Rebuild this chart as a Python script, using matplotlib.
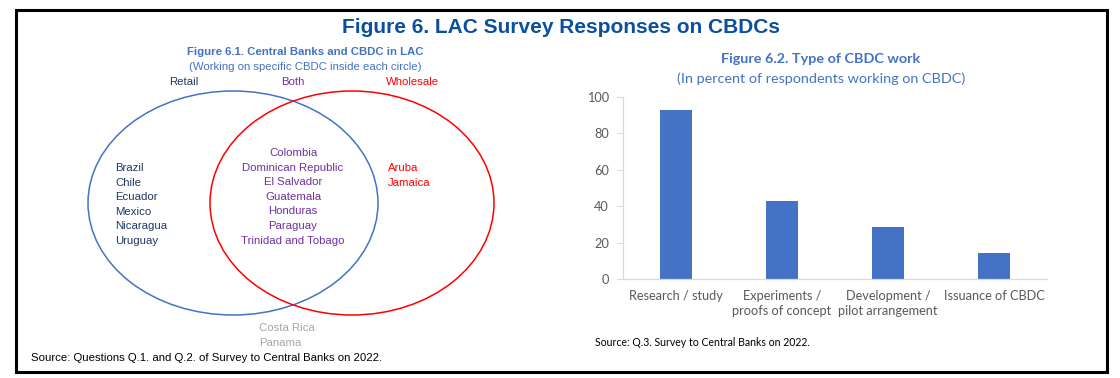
import matplotlib
matplotlib.use("Agg")
import matplotlib.pyplot as plt
from matplotlib.patches import Ellipse, Rectangle

# ---------------- data ----------------
retail_only = ["Brazil", "Chile", "Ecuador", "Mexico", "Nicaragua", "Uruguay"]
both = ["Colombia", "Dominican Republic", "El Salvador", "Guatemala",
        "Honduras", "Paraguay", "Trinidad and Tobago"]
wholesale_only = ["Aruba", "Jamaica"]
neither = ["Costa Rica", "Panama"]

work_types = ["Research / study", "Experiments /\nproofs of concept",
              "Development /\npilot arrangement", "Issuance of CBDC"]
work_pct = [92.9, 42.9, 28.6, 14.3]
y_ticks = [0, 20, 40, 60, 80, 100]

# ---------------- styles ----------------
W, H = 1120, 378
ARIAL = ["Liberation Sans", "DejaVu Sans"]
CALIBRI = ["Lato", "DejaVu Sans"]
BLUE = "#4472c4"
NAVY = "#1f3864"
PURPLE = "#7030a0"
RED = "#ff0000"
GREY = "#a6a6a6"
TITLE_BLUE = "#0a4fa0"
FS_L = 8.2

fig = plt.figure(figsize=(W / 100, H / 100), dpi=100)
fig.patch.set_facecolor("white")

# overlay axes in pixel coordinates
ov = fig.add_axes([0, 0, 1, 1])
ov.set_xlim(0, W)
ov.set_ylim(H, 0)
ov.axis("off")

# frame
ov.add_patch(Rectangle((16, 10), 1091, 362, fill=False, edgecolor="black", lw=2.2))

# main title
ov.text(561, 33, "Figure 6. LAC Survey Responses on CBDCs", ha="center", va="baseline",
        fontsize=15, fontweight="bold", color=TITLE_BLUE, family=ARIAL)

# ---------------- left panel: Venn ----------------
ov.text(305, 55, "Figure 6.1. Central Banks and CBDC in LAC", ha="center", va="baseline",
        fontsize=FS_L, fontweight="bold", color=BLUE, family=ARIAL)
ov.text(305, 70, "(Working on specific CBDC inside each circle)", ha="center", va="baseline",
        fontsize=FS_L, color=BLUE, family=ARIAL)
ov.text(184, 85, "Retail", ha="center", va="baseline", fontsize=FS_L, color=NAVY, family=ARIAL)
ov.text(293, 85, "Both", ha="center", va="baseline", fontsize=FS_L, color=PURPLE, family=ARIAL)
ov.text(413, 85, "Wholesale", ha="center", va="baseline", fontsize=FS_L, color=RED, family=ARIAL)

ov.add_patch(Ellipse((233, 203), 290, 224, fill=False, edgecolor=BLUE, lw=1.1))
ov.add_patch(Ellipse((352, 203), 284, 224, fill=False, edgecolor=RED, lw=1.1))

step = 14.6
for i, name in enumerate(retail_only):
    ov.text(115, 168 + i * step, name, ha="left", va="center", fontsize=FS_L,
            color=NAVY, family=ARIAL)
for i, name in enumerate(both):
    ov.text(293, 153 + i * step, name, ha="center", va="center", fontsize=FS_L,
            color=PURPLE, family=ARIAL)
for i, name in enumerate(wholesale_only):
    ov.text(388, 168 + i * step, name, ha="left", va="center", fontsize=FS_L,
            color=RED, family=ARIAL)
for i, name in enumerate(neither):
    ov.text(259, 328 + i * step, name, ha="left", va="center", fontsize=FS_L,
            color=GREY, family=ARIAL)

ov.text(31, 358, "Source: Questions Q.1. and Q.2. of Survey to Central Banks on 2022.",
        ha="left", va="center", fontsize=FS_L, color="black", family=ARIAL)

# ---------------- right panel: bars ----------------
ov.text(821, 63, "Figure 6.2. Type of CBDC work", ha="center", va="baseline",
        fontsize=10.4, fontweight="bold", color=BLUE, family=CALIBRI)
ov.text(821, 83, "(In percent of respondents working on CBDC)", ha="center", va="baseline",
        fontsize=10.4, color=BLUE, family=CALIBRI)
ov.text(595, 343, "Source: Q.3. Survey to Central Banks on 2022.", ha="left", va="center",
        fontsize=7.6, color="black", family=CALIBRI)

x0, x1 = 623, 1047
y0, y100 = 279, 97
ax = fig.add_axes([x0 / W, (H - y0) / H, (x1 - x0) / W, (y0 - y100) / H])
ax.set_facecolor("none")
xs = list(range(len(work_types)))
ax.bar(xs, work_pct, width=0.31, color=BLUE, zorder=2)
ax.set_xlim(-0.5, len(work_types) - 0.5)
ax.set_ylim(0, 100)
ax.set_yticks(y_ticks)
ax.set_xticks(xs)
ax.set_xticklabels(work_types, family=CALIBRI, fontsize=9.2, color="#595959",
                   linespacing=1.25)
for lbl in ax.get_yticklabels():
    lbl.set_family(CALIBRI)
    lbl.set_fontsize(9.2)
    lbl.set_color("#595959")
ax.tick_params(axis="y", length=4, color="#d9d9d9", pad=6)
ax.tick_params(axis="x", length=0, pad=8)
for s in ["top", "right"]:
    ax.spines[s].set_visible(False)
ax.spines["left"].set_color("#d9d9d9")
ax.spines["bottom"].set_color("#d9d9d9")
ax.spines["left"].set_linewidth(0.9)
ax.spines["bottom"].set_linewidth(0.9)

fig.savefig("out.png", dpi=100, facecolor="white")
